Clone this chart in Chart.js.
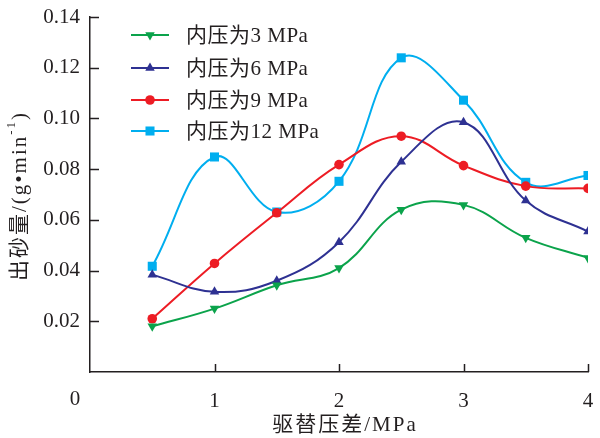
<!DOCTYPE html>
<html>
<head>
<meta charset="utf-8">
<script src="https://cdn.jsdelivr.net/npm/chart.js@4/dist/chart.umd.min.js"></script>
<style>
    html, body { margin: 0; padding: 0; background: #ffffff; }
    #wrap { width: 600px; height: 438px; position: relative; }
</style>
</head>
<body>
<div id="wrap"><canvas id="sandChart"></canvas></div>
<script>
// 驱替压差 (MPa)
const pressureDiff = [0.5, 1, 1.5, 2, 2.5, 3, 3.5, 4];
// 出砂量 (g/min)，按内压分组
const sand3MPa  = [0.018, 0.025, 0.0342, 0.041, 0.064, 0.0659, 0.0529, 0.045];
const sand6MPa  = [0.0384, 0.0316, 0.036, 0.0512, 0.0829, 0.0985, 0.0676, 0.0554];
const sand9MPa  = [0.021, 0.0428, 0.0628, 0.0818, 0.093, 0.0814, 0.0733, 0.0724];
const sand12MPa = [0.0417, 0.0848, 0.0631, 0.0752, 0.1239, 0.1072, 0.0748, 0.0775];
const seriesLabels = ['内压为3 MPa', '内压为6 MPa', '内压为9 MPa', '内压为12 MPa'];
const xTicks = [0, 1, 2, 3, 4];
const yTicks = [0.02, 0.04, 0.06, 0.08, 0.10, 0.12, 0.14];

const FONT = "'Liberation Serif', 'Noto Sans CJK SC', serif";
const FONT_SIZE = 21;
const AXIS_COLOR = '#231f20';
const TEXT_COLOR = '#231f20';

const styles = [
    { color: '#0ba34b', pointStyle: 'triangle', rotation: 180, radius: 5.5 },
    { color: '#2e3192', pointStyle: 'triangle', rotation: 0, radius: 5.5 },
    { color: '#ed1c24', pointStyle: 'circle', rotation: 0, radius: 4.8 },
    { color: '#00aeef', pointStyle: 'rect', rotation: 0, radius: 6.4 }
];

function toPoints(values) {
    return values.map((v, i) => ({ x: pressureDiff[i], y: v }));
}

const datasets = [sand3MPa, sand6MPa, sand9MPa, sand12MPa].map((values, i) => ({
    label: seriesLabels[i],
    data: toPoints(values),
    borderColor: styles[i].color,
    backgroundColor: styles[i].color,
    borderWidth: 2,
    tension: 0.4,
    pointStyle: styles[i].pointStyle,
    pointRotation: styles[i].rotation,
    pointRadius: styles[i].radius,
    pointBorderWidth: 0,
    pointBackgroundColor: styles[i].color
}));

// 图例、坐标轴标题及向内的刻度线
const decorPlugin = {
    id: 'decor',
    afterDraw(chart) {
        const ctx = chart.ctx;
        const xs = chart.scales.x;
        const ys = chart.scales.y;
        const area = chart.chartArea;
        const font = FONT_SIZE + 'px ' + FONT;
        ctx.save();

        // 向内刻度
        ctx.strokeStyle = AXIS_COLOR;
        ctx.lineWidth = 1.5;
        ctx.beginPath();
        xTicks.slice(1).forEach(v => {
            const px = Math.round(xs.getPixelForValue(v)) + 0.5;
            ctx.moveTo(px, area.bottom);
            ctx.lineTo(px, area.bottom - 8);
        });
        yTicks.forEach(v => {
            const py = Math.round(ys.getPixelForValue(v)) + 0.5;
            ctx.moveTo(area.left, py);
            ctx.lineTo(area.left + 9, py);
        });
        ctx.stroke();

        // 原点 0
        ctx.fillStyle = TEXT_COLOR;
        ctx.font = font;
        ctx.textAlign = 'center';
        ctx.textBaseline = 'middle';
        ctx.fillText('0', area.left - 15, area.bottom + 27);

        // 横轴标题
        ctx.letterSpacing = '2px';
        ctx.fillText('驱替压差/MPa', (area.left + area.right) / 2 + 6, 425);

        // 纵轴标题（带上标）
        ctx.save();
        ctx.translate(20, 196);
        ctx.rotate(-Math.PI / 2);
        const main = '出砂量/(g•min';
        const sup = '-1';
        const tail = ')';
        ctx.font = font;
        const wMain = ctx.measureText(main).width;
        const wTail = ctx.measureText(tail).width;
        ctx.font = '13px ' + FONT;
        const wSup = ctx.measureText(sup).width;
        const x0 = -(wMain + wSup + wTail) / 2;
        ctx.textAlign = 'left';
        ctx.font = font;
        ctx.fillText(main, x0, 0);
        ctx.font = '13px ' + FONT;
        ctx.fillText(sup, x0 + wMain, -8);
        ctx.font = font;
        ctx.fillText(tail, x0 + wMain + wSup, 0);
        ctx.restore();

        // 图例
        const rows = [35, 68, 100, 131];
        ctx.textAlign = 'left';
        ctx.font = font;
        ctx.letterSpacing = '0.5px';
        datasets.forEach((ds, i) => {
            const y = rows[i];
            ctx.strokeStyle = styles[i].color;
            ctx.fillStyle = styles[i].color;
            ctx.lineWidth = 2;
            ctx.beginPath();
            ctx.moveTo(131, y);
            ctx.lineTo(169, y);
            ctx.stroke();
            Chart.helpers.drawPoint(ctx, {
                pointStyle: styles[i].pointStyle,
                rotation: styles[i].rotation,
                radius: styles[i].radius,
                borderWidth: 0
            }, 150, y);
            ctx.fillStyle = TEXT_COLOR;
            ctx.fillText(ds.label, 186, y + 1);
        });

        ctx.restore();
    }
};

new Chart(document.getElementById('sandChart'), {
    type: 'line',
    data: { datasets: datasets },
    options: {
        responsive: true,
        maintainAspectRatio: false,
        animation: false,
        layout: { padding: { top: 17, right: 12, left: 0, bottom: 0 } },
        plugins: {
            legend: { display: false },
            tooltip: { enabled: false }
        },
        scales: {
            x: {
                type: 'linear',
                min: 0,
                max: 4,
                afterFit(scale) {
                    scale.height = 66;
                    scale.paddingLeft = 0;
                    scale.paddingRight = 0;
                },
                afterBuildTicks(scale) { scale.ticks = xTicks.map(v => ({ value: v })); },
                grid: { display: false, drawTicks: false },
                border: { display: true, color: AXIS_COLOR, width: 1.5 },
                ticks: {
                    padding: 17,
                    color: TEXT_COLOR,
                    font: { family: FONT, size: FONT_SIZE },
                    callback: v => (v === 0 ? '' : String(v))
                }
            },
            y: {
                type: 'linear',
                min: 0,
                max: 0.14,
                afterFit(scale) {
                    scale.width = 90;
                    scale.paddingTop = 0;
                    scale.paddingBottom = 0;
                },
                afterBuildTicks(scale) { scale.ticks = [0].concat(yTicks).map(v => ({ value: v })); },
                grid: { display: false, drawTicks: false },
                border: { display: true, color: AXIS_COLOR, width: 1.5 },
                ticks: {
                    padding: 10,
                    color: TEXT_COLOR,
                    font: { family: FONT, size: FONT_SIZE },
                    callback: v => (v === 0 ? '' : v.toFixed(2))
                }
            }
        }
    },
    plugins: [decorPlugin]
});
</script>
</body>
</html>
